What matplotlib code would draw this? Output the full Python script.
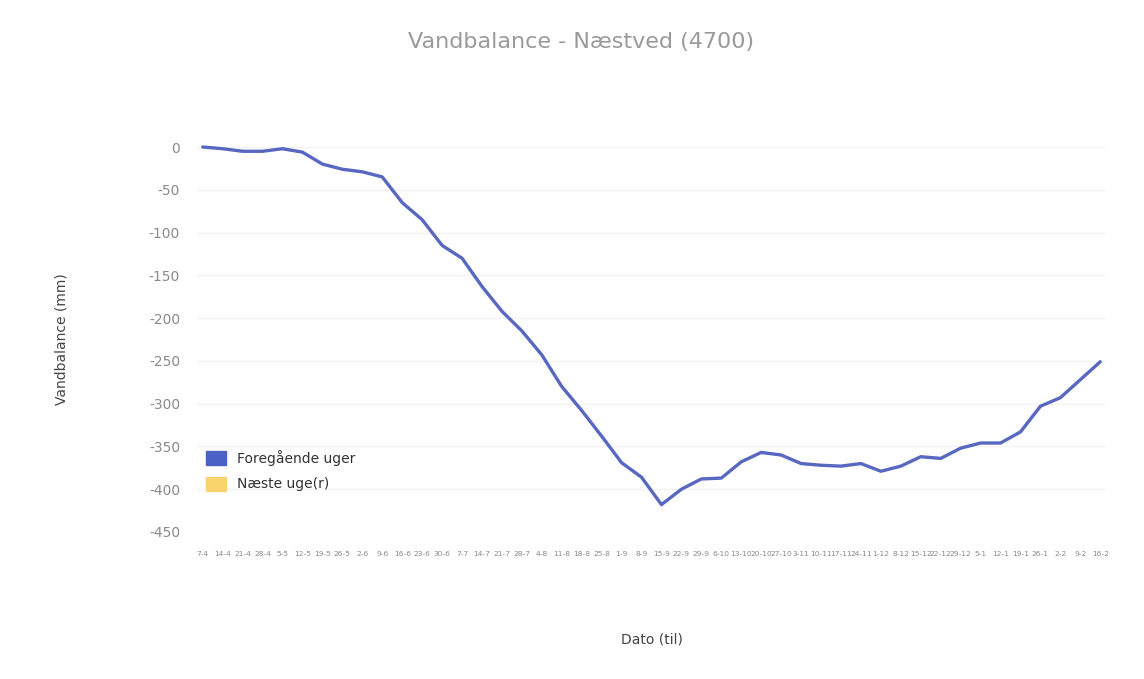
import matplotlib.pyplot as plt
from matplotlib.patches import Patch

# weekly water balance values (mm)
datoer = ['7-4', '14-4', '21-4', '28-4', '5-5', '12-5', '19-5', '26-5', '2-6', '9-6',
          '16-6', '23-6', '30-6', '7-7', '14-7', '21-7', '28-7', '4-8', '11-8', '18-8',
          '25-8', '1-9', '8-9', '15-9', '22-9', '29-9', '6-10', '13-10', '20-10', '27-10',
          '3-11', '10-11', '17-11', '24-11', '1-12', '8-12', '15-12', '22-12', '29-12', '5-1',
          '12-1', '19-1', '26-1', '2-2', '9-2', '16-2']
vandbalance = [0, -2, -5, -5, -2, -6, -20, -26, -29, -35,
               -65, -85, -115, -130, -163, -192, -215, -243, -280, -308,
               -338, -369, -386, -418, -400, -388, -387, -368, -357, -360,
               -370, -372, -373, -370, -379, -373, -362, -364, -352, -346,
               -346, -333, -303, -293, -272, -251]
yticks = [0, -50, -100, -150, -200, -250, -300, -350, -400, -450]

fig = plt.figure(figsize=(11.44, 6.79), dpi=100)
ax = fig.add_axes([0.172, 0.2165, 0.795, 0.567])

x = list(range(len(vandbalance)))
ax.plot(x, vandbalance, color='#5868c0', linewidth=2.4, solid_capstyle='round',
        solid_joinstyle='round', clip_on=False)

ax.set_ylim(-450, 0)
ax.set_xlim(-0.3, len(x) - 0.7)
ax.set_yticks(yticks)
ax.set_yticklabels([str(v) for v in yticks], color='#8a8a8a', fontsize=10)
ax.set_xticks(x)
ax.set_xticklabels(datoer, color='#8a8a8a', fontsize=5.4)
ax.tick_params(length=0, pad=14)
ax.tick_params(axis='y', pad=12)
ax.grid(axis='y', color='#f3f3f3', linewidth=1)
for s in ax.spines.values():
    s.set_visible(False)

ax.set_ylabel('Vandbalance (mm)', color='#444444', fontsize=10, labelpad=58)
ax.set_xlabel('Dato (til)', color='#444444', fontsize=10, labelpad=54)
fig.text(0.508, 0.938, 'Vandbalance - Næstved (4700)', ha='center', va='center',
         fontsize=16, color='#9a9a9a')

handles = [Patch(color='#4a62c6', label='Foregående uger'),
           Patch(color='#f9d36c', label='Næste uge(r)')]
leg = ax.legend(handles=handles, loc='lower left', bbox_to_anchor=(0.0, 0.08),
                frameon=False, fontsize=10, handlelength=1.4, handleheight=1.2,
                labelspacing=0.8, borderaxespad=0.3)
for t in leg.get_texts():
    t.set_color('#333333')

fig.savefig('out.png', dpi=100)
